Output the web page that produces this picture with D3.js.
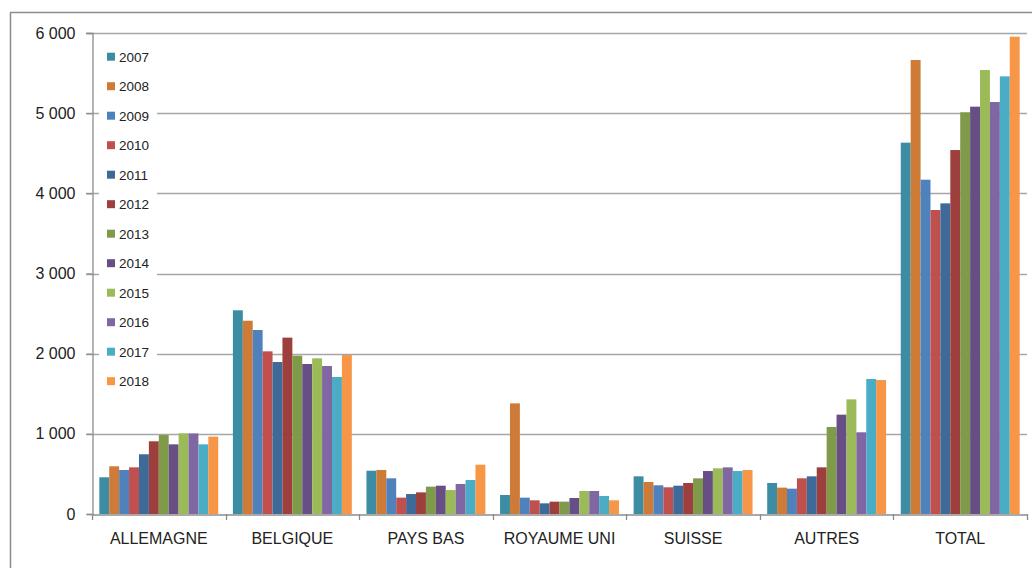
<!DOCTYPE html>
<html>
<head>
<meta charset="utf-8">
<script src="https://cdn.jsdelivr.net/npm/d3@7"></script>
<style>
  html, body { margin: 0; padding: 0; background: #fff; }
  svg { display: block; }
</style>
</head>
<body>
<svg id="chart" width="1032" height="568"></svg>
<script>
const categories = ["ALLEMAGNE", "BELGIQUE", "PAYS BAS", "ROYAUME UNI", "SUISSE", "AUTRES", "TOTAL"];
const years = ["2007","2008","2009","2010","2011","2012","2013","2014","2015","2016","2017","2018"];
const colors = ["#3C8DA3","#CD7B37","#4F81BD","#C0504D","#3E6A9A","#9C3F3D","#7F9A48","#674F86","#9BBB59","#8066A2","#4BACC6","#F79646"];
const yTicks = [0, 1000, 2000, 3000, 4000, 5000, 6000];

const vAllemagne = [458, 595, 549, 582, 745, 907, 985, 869, 1006, 1005, 869, 965];
const vBelgique  = [2541, 2411, 2295, 2029, 1896, 2200, 1975, 1871, 1942, 1846, 1709, 1983];
const vPaysBas   = [540, 549, 445, 204, 249, 270, 341, 353, 299, 374, 424, 615];
const vRoyaume   = [237, 1380, 204, 171, 133, 154, 154, 200, 287, 287, 225, 171];
const vSuisse    = [470, 399, 358, 333, 353, 387, 445, 536, 570, 582, 536, 549];
const vAutres    = [387, 329, 316, 445, 470, 582, 1085, 1239, 1430, 1019, 1684, 1671];
const vTotal     = [4632, 5663, 4170, 3792, 3875, 4540, 5011, 5081, 5538, 5139, 5459, 5954];

const seriesByCategory = [vAllemagne, vBelgique, vPaysBas, vRoyaume, vSuisse, vAutres, vTotal];

const svg = d3.select("#chart");
const pLeft = 92, pRight = 1027, pTop = 33, pBottom = 514;
const font = "'Liberation Sans', Arial, sans-serif";

// outer chart border
svg.append("rect")
  .attr("x", 10.5).attr("y", 12.5)
  .attr("width", 1040).attr("height", 600)
  .attr("fill", "none").attr("stroke", "#8c8c8c").attr("stroke-width", 1.5);

const x = d3.scaleBand().domain(categories).range([pLeft, pRight]).paddingInner(0).paddingOuter(0);
const x1 = d3.scaleBand().domain(years).range([0, x.bandwidth()]).paddingInner(0).paddingOuter(0.74);
const y = d3.scaleLinear().domain([0, 6000]).range([pBottom, pTop]);

// gridlines
svg.append("g").selectAll("line").data(yTicks.filter(d => d > 0)).join("line")
  .attr("x1", pLeft - 6).attr("x2", pRight)
  .attr("y1", d => Math.round(y(d)) + 0.5).attr("y2", d => Math.round(y(d)) + 0.5)
  .attr("stroke", "#a6a6a6").attr("stroke-width", 1.3);

// y axis
const yAxis = svg.append("g").attr("transform", `translate(${pLeft + 0.5},0)`)
  .call(d3.axisLeft(y).tickValues(yTicks).tickSize(6).tickPadding(11)
    .tickFormat(d => d3.format(",")(d).replace(",", " ")));
yAxis.select(".domain").attr("stroke", "#8c8c8c").attr("stroke-width", 1.3);
yAxis.selectAll(".tick line").attr("stroke", "#8c8c8c").attr("stroke-width", 1.3);
yAxis.selectAll(".tick text")
  .attr("font-family", font)
  .attr("font-size", 16).attr("fill", "#222");

// bars
const groups = svg.append("g").selectAll("g").data(categories).join("g")
  .attr("transform", d => `translate(${x(d)},0)`);
groups.selectAll("rect")
  .data((c, i) => seriesByCategory[i].map((v, j) => ({ year: years[j], value: v, color: colors[j] })))
  .join("rect")
  .attr("x", d => x1(d.year))
  .attr("width", x1.bandwidth())
  .attr("y", d => y(d.value))
  .attr("height", d => y(0) - y(d.value))
  .attr("fill", d => d.color);

// x axis
const xAxis = svg.append("g").attr("transform", `translate(0,${pBottom + 0.5})`)
  .call(d3.axisBottom(x).tickSize(0).tickPadding(18));
xAxis.select(".domain").attr("stroke", "#8c8c8c").attr("stroke-width", 1.3);
xAxis.selectAll(".tick text")
  .attr("font-family", font)
  .attr("font-size", 16).attr("fill", "#222");
// category separator ticks
const bounds = categories.map(c => x(c)).concat([pRight]);
svg.append("g").selectAll("line").data(bounds).join("line")
  .attr("x1", d => Math.round(d) + 0.5).attr("x2", d => Math.round(d) + 0.5)
  .attr("y1", pBottom).attr("y2", pBottom + 6)
  .attr("stroke", "#8c8c8c").attr("stroke-width", 1.3);

// legend
const legend = svg.append("g");
legend.append("rect").attr("x", 99).attr("y", 42).attr("width", 58).attr("height", 354).attr("fill", "#fff");
const li = legend.selectAll("g").data(years).join("g")
  .attr("transform", (d, i) => `translate(107,${56.7 + i * 29.5})`);
li.append("rect").attr("x", 0).attr("y", -4).attr("width", 8).attr("height", 8)
  .attr("fill", (d, i) => colors[i]);
li.append("text").attr("x", 12).attr("y", 0).attr("dy", "0.36em")
  .attr("font-family", font)
  .attr("font-size", 13.5).attr("fill", "#222").text(d => d);
</script>
</body>
</html>
